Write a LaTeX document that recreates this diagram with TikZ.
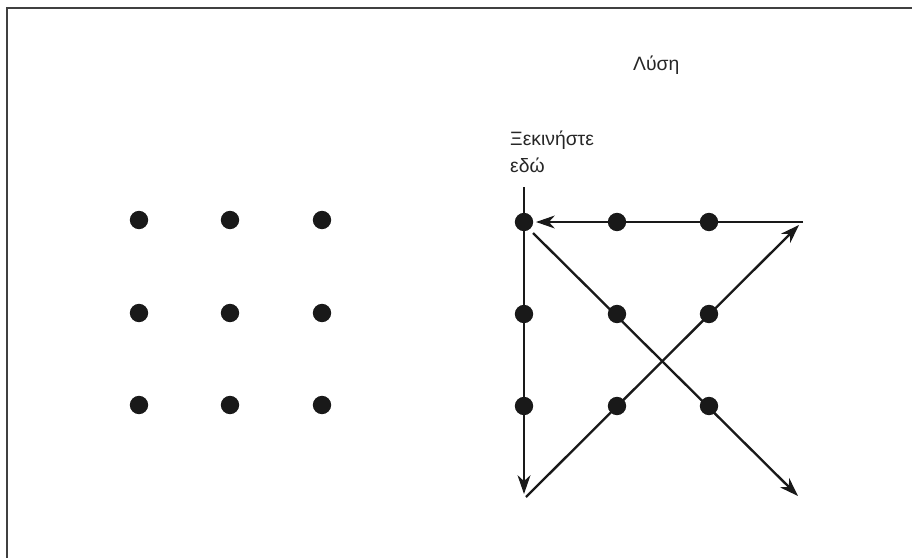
\documentclass[tikz,border=0pt]{standalone}
\usepackage{fontspec}
\setmainfont{Liberation Sans}
\usetikzlibrary{arrows.meta}
\begin{document}
\begin{tikzpicture}[x=0.03cm,y=-0.03cm,
  dot/.style={circle,fill=black!90,inner sep=0pt,minimum size=0.55cm},
  path/.style={line width=2pt,black!90},
  arr/.style={path,-{Stealth[length=16pt,width=11pt,inset=5pt]}},
  frame/.style={line width=1.4pt,black!75},
  lbl/.style={font=\fontsize{16.5}{20}\selectfont,inner sep=0pt,text=black!85}]
\useasboundingbox (0,0) rectangle (912,558);
\draw[frame] (7,558) -- (7,8) -- (912,8);
% left grid
\foreach \c/\x in {1/139,2/230,3/322}{
  \foreach \r/\y in {1/220,2/313,3/405}{
    \node[dot] (L\r\c) at (\x,\y) {};
  }
}
% right grid
\foreach \c/\x in {1/524,2/617,3/709}{
  \foreach \r/\y in {1/222,2/314,3/406}{
    \node[dot] (R\r\c) at (\x,\y) {};
  }
}
\node[lbl,anchor=base west] (sol) at (633,70) {Λύση};
\node[lbl,anchor=base west] (st1) at (510,145) {Ξεκινήστε};
\node[lbl,anchor=base west] (st2) at (510,172) {εδώ};
\coordinate (vtop) at (524,187);
\coordinate (vend) at (524,494);
\coordinate (ustart) at (526,497);
\coordinate (uend) at (799,225);
\coordinate (hstart) at (803,222);
\coordinate (hend) at (536,222);
\coordinate (dstart) at (533,233);
\coordinate (dend) at (798,496);
\draw[arr] (vtop) -- (vend);
\draw[arr] (ustart) -- (uend);
\draw[arr] (hstart) -- (hend);
\draw[arr] (dstart) -- (dend);
\end{tikzpicture}
\end{document}
